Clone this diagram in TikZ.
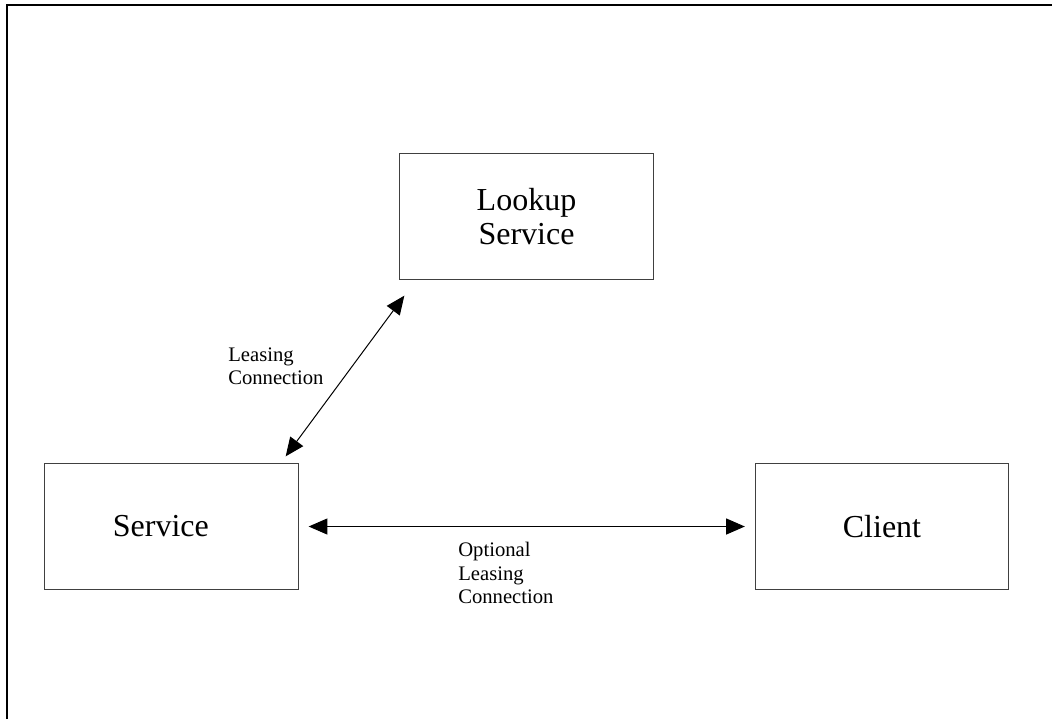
\documentclass[tikz,border=0pt]{standalone}
\usepackage{fontspec}
\setmainfont{Liberation Serif}
\usetikzlibrary{positioning,arrows.meta,calc}

\begin{document}
\begin{tikzpicture}[x=0.75pt, y=-0.75pt,
    box/.style={draw=black!75, line width=0.75pt, minimum width=190pt, minimum height=94pt, align=center, font=\fontsize{24}{25}\selectfont, inner sep=0pt},
    link/.style={{Triangle[length=14pt,width=12pt]}-{Triangle[length=14pt,width=12pt]}, line width=0.75pt},
    note/.style={align=left, font=\fontsize{15.5}{17.5}\selectfont, inner sep=0pt}]
    \useasboundingbox (0,0) rectangle (1052,719);
    % outer frame (only left and top edges fall inside the page)
    \draw[line width=1.5pt] (7,719) -- (7,5) -- (1052,5);

    % boxes
    \node[box] (lookup) at (526.5,216.5) {Lookup\\Service};
    \node[box] (svc) at (171.5,526.5) {Service\hspace*{16pt}};
    \node[box] (client) at (882,526.5) {Client};

    % connections
    \draw[link] ([xshift=-9.75pt,yshift=5.25pt]svc.north east) -- ([xshift=3.75pt,yshift=-12pt]lookup.south west);
    \draw[link, shorten <=7.5pt, shorten >=7.5pt] (svc.east) -- (client.west);

    % labels
    \node[note, anchor=west] (leaselbl) at (228,366) {Leasing\\Connection};
    \node[note, anchor=west] (optlbl) at (458,573) {Optional\\Leasing\\Connection};
\end{tikzpicture}
\end{document}
